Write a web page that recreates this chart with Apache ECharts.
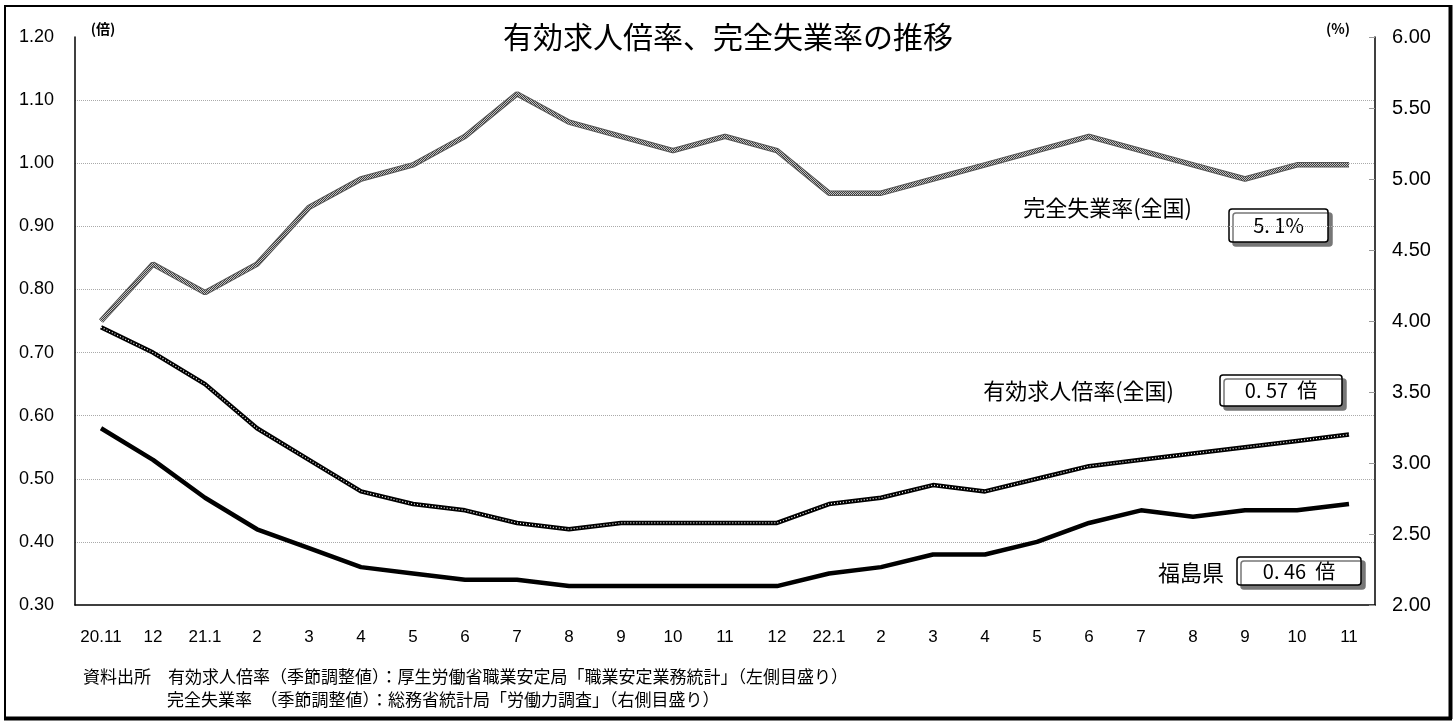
<!DOCTYPE html>
<html>
<head>
<meta charset="utf-8">
<script src="https://cdn.jsdelivr.net/npm/echarts@6/dist/echarts.min.js"></script>
<style>
  html, body { margin: 0; padding: 0; background: #fff; }
  #chart { width: 1456px; height: 722px; }
</style>
</head>
<body>
<div id="chart"></div>
<script>
// months, 2020.11 - 2022.11
const months = ['20.11', '12', '21.1', '2', '3', '4', '5', '6', '7', '8', '9', '10', '11', '12',
  '22.1', '2', '3', '4', '5', '6', '7', '8', '9', '10', '11'];

// 有効求人倍率 福島県 (left axis)
const fukushimaRatio = [0.58, 0.53, 0.47, 0.42, 0.39, 0.36, 0.35, 0.34, 0.34, 0.33, 0.33, 0.33, 0.33,
  0.33, 0.35, 0.36, 0.38, 0.38, 0.40, 0.43, 0.45, 0.44, 0.45, 0.45, 0.46];

// 有効求人倍率 全国 (left axis)
const nationalRatio = [0.74, 0.70, 0.65, 0.58, 0.53, 0.48, 0.46, 0.45, 0.43, 0.42, 0.43, 0.43, 0.43,
  0.43, 0.46, 0.47, 0.49, 0.48, 0.50, 0.52, 0.53, 0.54, 0.55, 0.56, 0.57];

// 完全失業率 全国 (right axis, %)
const unemployment = [4.0, 4.4, 4.2, 4.4, 4.8, 5.0, 5.1, 5.3, 5.6, 5.4, 5.3, 5.2, 5.3,
  5.2, 4.9, 4.9, 5.0, 5.1, 5.2, 5.3, 5.2, 5.1, 5.0, 5.1, 5.1];

const JP = '"Noto Sans CJK JP", sans-serif';
const NUM = '"Liberation Sans", Arial, sans-serif';

// checkered grey texture for the unemployment line
function greyPattern() {
  const c = document.createElement('canvas');
  c.width = 2; c.height = 2;
  const ctx = c.getContext('2d');
  ctx.fillStyle = '#c4c4c4'; ctx.fillRect(0, 0, 2, 2);
  ctx.fillStyle = '#3c3c3c'; ctx.fillRect(0, 0, 1, 1); ctx.fillRect(1, 1, 1, 1);
  return { image: c, repeat: 'repeat' };
}

// rounded box with a drop shadow and the latest value inside
function valueBox(x, y, w, h, text) {
  return {
    type: 'group', z: 10,
    children: [
      {
        type: 'rect',
        shape: { x: x, y: y, width: w, height: h, r: 3 },
        style: { fill: '#fff', stroke: '#000', lineWidth: 1.5, shadowColor: '#777', shadowOffsetX: 4, shadowOffsetY: 4, shadowBlur: 0 }
      },
      {
        type: 'text', x: x + w / 2, y: y + h / 2,
        style: { text: text, font: '20px ' + JP, fill: '#000', align: 'center', verticalAlign: 'middle' }
      }
    ]
  };
}

function label(x, y, text, size, align, weight) {
  return {
    type: 'text', x: x, y: y, z: 10,
    style: { text: text, font: (weight || 'normal') + ' ' + size + 'px ' + JP, fill: '#000', align: align || 'left', verticalAlign: 'middle' }
  };
}

function frameLine(points, width) {
  return { type: 'polyline', z: 20, silent: true, shape: { points: points }, style: { stroke: '#000', lineWidth: width, fill: null } };
}

const chart = echarts.init(document.getElementById('chart'));

chart.setOption({
  animation: false,
  backgroundColor: '#fff',
  title: {
    text: '有効求人倍率、完全失業率の推移',
    left: 'center', top: 17,
    textStyle: { fontFamily: JP, fontSize: 30, fontWeight: 'normal', color: '#000' }
  },
  grid: { left: 75, right: 81, top: 37, bottom: 117 },
  xAxis: {
    type: 'category',
    data: months,
    boundaryGap: true,
    axisLine: { lineStyle: { color: '#000', width: 1.5 } },
    axisTick: { inside: true, length: 6, interval: 0, lineStyle: { color: '#999' } },
    axisLabel: { interval: 0, margin: 24, fontFamily: NUM, fontSize: 17, color: '#000' }
  },
  yAxis: [
    {
      type: 'value', min: 0.3, max: 1.2, interval: 0.1, position: 'left',
      axisLine: { show: true, lineStyle: { color: '#000', width: 1.5 } },
      axisTick: { show: false },
      axisLabel: { margin: 21, fontFamily: NUM, fontSize: 18, color: '#000', formatter: v => v.toFixed(2) },
      splitLine: { show: true, showMaxLine: false, showMinLine: false, lineStyle: { color: '#aaa', width: 1, type: [1, 1] } }
    },
    {
      type: 'value', min: 2, max: 6, interval: 0.5, position: 'right',
      axisLine: { show: true, lineStyle: { color: '#000', width: 1.5 } },
      axisTick: { show: true, inside: true, length: 6, lineStyle: { color: '#999' } },
      axisLabel: { margin: 17, fontFamily: NUM, fontSize: 20, color: '#000', formatter: v => v.toFixed(2) },
      splitLine: { show: false }
    }
  ],
  series: [
    {
      name: '完全失業率(全国) outline', type: 'line', yAxisIndex: 1, data: unemployment,
      symbol: 'none', lineStyle: { width: 5.5, color: '#555' }, z: 2
    },
    {
      name: '完全失業率(全国)', type: 'line', yAxisIndex: 1, data: unemployment,
      symbol: 'none', lineStyle: { width: 3.5, color: greyPattern() }, z: 3
    },
    {
      name: '有効求人倍率(全国)', type: 'line', yAxisIndex: 0, data: nationalRatio,
      symbol: 'none', lineStyle: { width: 4.5, color: '#000' }, z: 4
    },
    {
      name: '有効求人倍率(全国) dots', type: 'line', yAxisIndex: 0, data: nationalRatio,
      symbol: 'none', lineStyle: { width: 1.2, color: '#fff', type: [1, 2] }, z: 5
    },
    {
      name: '福島県', type: 'line', yAxisIndex: 0, data: fukushimaRatio,
      symbol: 'none', lineStyle: { width: 4.5, color: '#000' }, z: 6
    }
  ],
  graphic: [
    frameLine([[5, 718], [5, 6], [1450, 6]], 2),
    frameLine([[1450.5, 5], [1450.5, 719]], 4),
    frameLine([[4, 718.5], [1452, 718.5]], 4),
    label(103, 29, '(倍)', 14, 'center', 'bold'),
    label(1338, 29, '(%)', 14, 'center', 'bold'),
    label(1192, 208, '完全失業率(全国)', 22, 'right'),
    valueBox(1229, 209, 99, 33, '5. 1%'),
    label(1174, 391, '有効求人倍率(全国)', 22, 'right'),
    valueBox(1220, 375, 122, 31, '0. 57  倍'),
    label(1224, 573, '福島県', 22, 'right'),
    valueBox(1237, 557, 124, 28, '0. 46  倍'),
    label(83, 677, '資料出所　有効求人倍率（季節調整値）：厚生労働省職業安定局「職業安定業務統計」（左側目盛り）', 17),
    label(167, 700, '完全失業率　（季節調整値）：総務省統計局「労働力調査」（右側目盛り）', 17)
  ]
});
</script>
</body>
</html>
